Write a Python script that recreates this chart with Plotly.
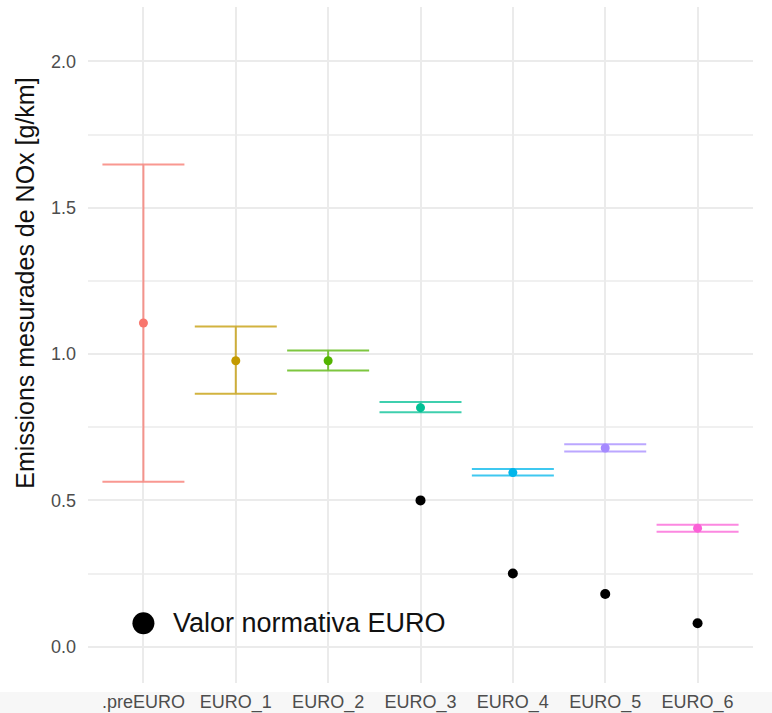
import plotly.graph_objects as go

# Euro emission categories and measured NOx (mean with interval bounds), g/km
categories = [".preEURO", "EURO_1", "EURO_2", "EURO_3", "EURO_4", "EURO_5", "EURO_6"]
nox_mean = [1.106, 0.977, 0.977, 0.817, 0.595, 0.679, 0.405]
nox_upper = [1.648, 1.094, 1.012, 0.836, 0.607, 0.692, 0.417]
nox_lower = [0.564, 0.864, 0.944, 0.801, 0.585, 0.667, 0.393]

# Regulatory EURO limit values (only defined from EURO_3 onwards)
limit_categories = ["EURO_3", "EURO_4", "EURO_5", "EURO_6"]
limit_values = [0.50, 0.25, 0.18, 0.08]

# Inline key for the black points
key_category = ".preEURO"
key_value = 0.08
key_label = "Valor normativa EURO"

y_title = "Emissions mesurades de NOx [g/km]"
y_tickvals = [0, 0.5, 1.0, 1.5, 2.0]
y_ticktext = ["0.0", "0.5", "1.0", "1.5", "2.0"]

palette = ["#F8766D", "#C49A00", "#53B400", "#00C094", "#00B6EB", "#A58AFF", "#FB61D7"]
font_family = "Liberation Sans, Arial, sans-serif"

fig = go.Figure()

for cat, m, hi, lo, col in zip(categories, nox_mean, nox_upper, nox_lower, palette):
    # interval with caps
    fig.add_trace(go.Scatter(
        x=[cat], y=[m], mode="markers",
        marker=dict(size=0.1, color=col, opacity=0),
        error_y=dict(type="data", symmetric=False,
                     array=[hi - m], arrayminus=[m - lo],
                     color=col, thickness=2, width=41),
        opacity=0.75, showlegend=False, hoverinfo="skip",
    ))
    # mean point
    fig.add_trace(go.Scatter(
        x=[cat], y=[m], mode="markers",
        marker=dict(size=9, color=col),
        showlegend=False,
    ))

fig.add_trace(go.Scatter(
    x=limit_categories, y=limit_values, mode="markers",
    marker=dict(size=10, color="black"), showlegend=False,
))

fig.add_trace(go.Scatter(
    x=[key_category], y=[key_value], mode="markers",
    marker=dict(size=22, color="black"), showlegend=False,
))

fig.add_annotation(
    x=0.30, y=key_value, xref="x", yref="y",
    text=key_label, showarrow=False, xanchor="left", yanchor="middle",
    font=dict(family=font_family, size=27, color="#111111"),
)

# rotated y-axis title
fig.add_annotation(
    x=-0.095, y=0.592, xref="paper", yref="paper",
    text=y_title, textangle=-90, showarrow=False,
    xanchor="center", yanchor="middle",
    font=dict(family=font_family, size=25, color="#111111"),
)

# light strip under the category labels
fig.add_shape(type="rect", xref="paper", yref="paper",
              x0=-0.14, x1=1.04, y0=-0.0133, y1=-0.05,
              fillcolor="#f7f7f7", line=dict(width=0), layer="below")

grid_col = "#ebebeb"
fig.update_layout(
    width=772, height=713,
    margin=dict(l=88, r=19, t=7, b=30, autoexpand=False),
    paper_bgcolor="white", plot_bgcolor="white",
    font=dict(family=font_family),
    xaxis=dict(
        type="category", categoryorder="array", categoryarray=categories,
        range=[-0.6, 6.6], showgrid=True, gridcolor=grid_col, gridwidth=2,
        zeroline=False, showline=False, ticks="", ticklabelstandoff=6,
        automargin=False,
        tickfont=dict(size=18, color="#4d4d4d"),
    ),
    yaxis=dict(
        range=[-0.124, 2.186], tickvals=y_tickvals, ticktext=y_ticktext,
        showgrid=True, gridcolor=grid_col, gridwidth=2,
        zeroline=False, showline=False, ticks="", ticklabelstandoff=11,
        automargin=False,
        tickfont=dict(size=18, color="#4d4d4d"),
        minor=dict(tickvals=[0.25, 0.75, 1.25, 1.75], showgrid=True,
                   gridcolor="#f0f0f0", gridwidth=2),
    ),
)

fig.write_html("out.html")
